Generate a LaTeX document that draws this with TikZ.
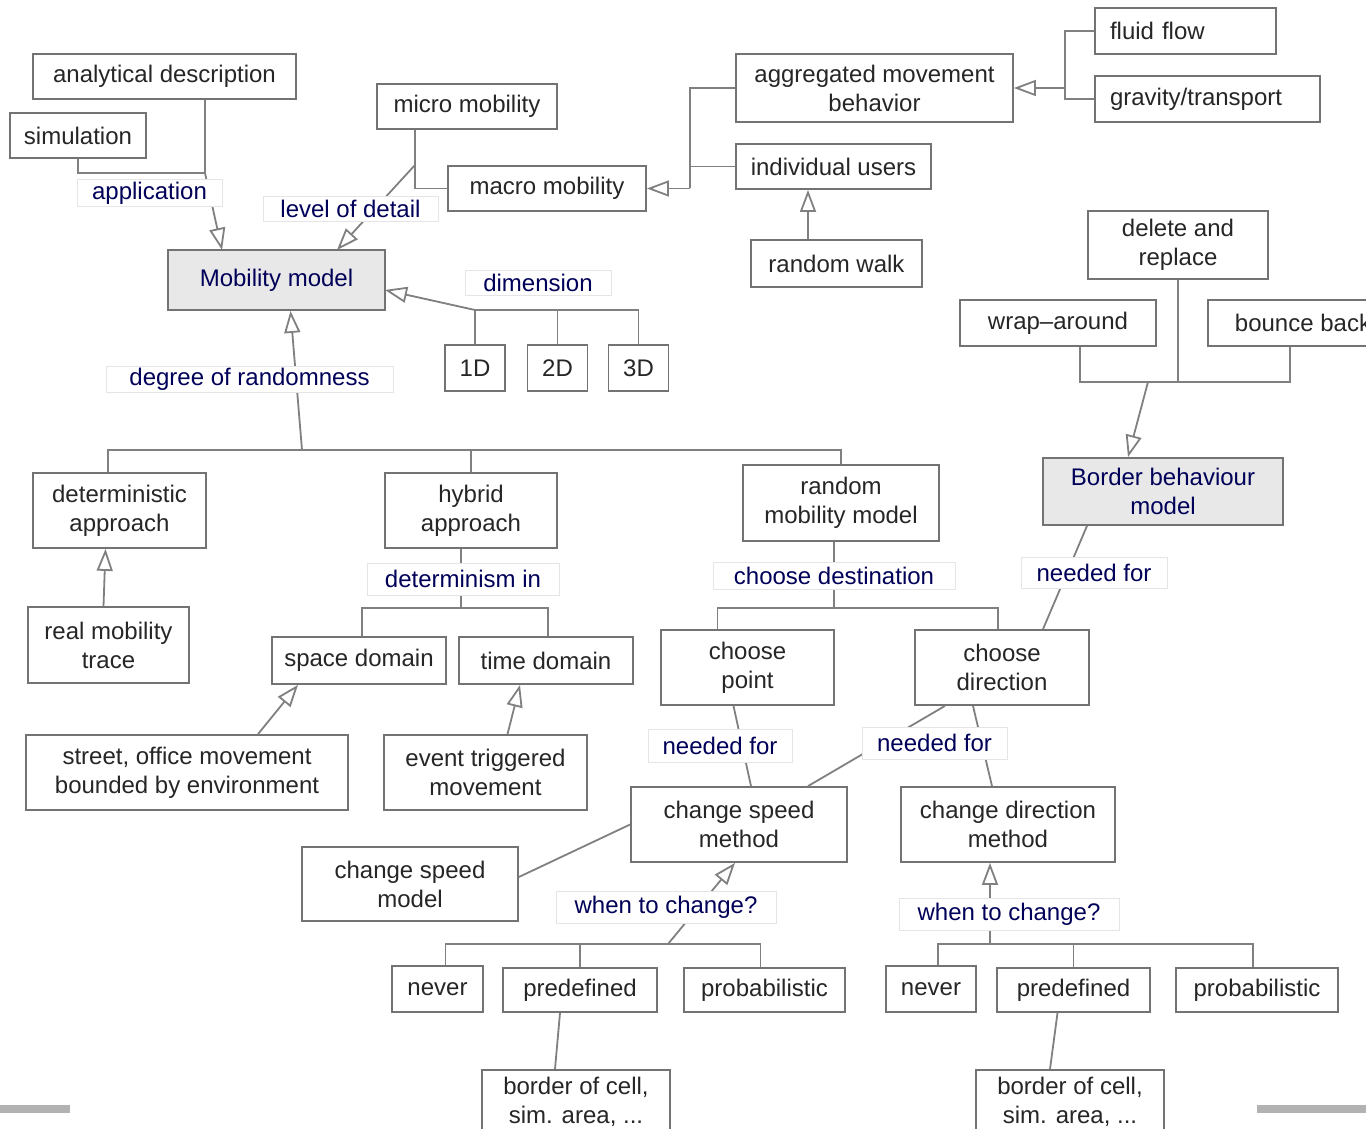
\documentclass[tikz,border=0pt]{standalone}
\usepackage{fontspec}
\setmainfont{Liberation Sans}
\usetikzlibrary{arrows.meta}

\begin{document}
\begin{tikzpicture}[x=0.5pt,y=-0.5pt,font=\fontsize{12}{14.5}\selectfont,
  box/.style={draw=black!55,line width=0.9pt,fill=white,align=center,text=black!85,inner sep=0pt},
  key box/.style={box,fill=black!9,text=blue!35!black},
  left box/.style={box,align=left,inner xsep=7.5pt},
  lbl/.style={draw=black!10,line width=0.5pt,fill=white,text=blue!35!black,inner sep=0pt},
  link/.style={draw=black!50,line width=0.9pt},
  isa/.style={link,-{Triangle[open,length=11pt,width=8pt,line width=0.9pt]}}]

  \useasboundingbox (0,0) rectangle (1366,1129);
  \clip (0,0) rectangle (1366,1129);

  \node[box,minimum width=131.5pt,minimum height=22.5pt] (ana) at (164.5,76.5) {analytical description};
  \node[box,minimum width=68pt,minimum height=22.5pt] (sim) at (78,135.5) {simulation};
  \node[box,minimum width=90pt,minimum height=22.5pt] (micro) at (467,106.5) {micro mobility};
  \node[box,minimum width=99pt,minimum height=22.5pt] (macro) at (547,188.5) {macro mobility};
  \node[box,minimum width=138.5pt,minimum height=34pt] (aggr) at (874.5,88) {aggregated movement\\behavior};
  \node[box,minimum width=97.5pt,minimum height=22.5pt] (indiv) at (833.5,166.5) {individual users};
  \node[left box,text width=75.5pt,minimum height=23pt] (fluid) at (1185.5,31) {fluid flow};
  \node[left box,text width=97.5pt,minimum height=23pt] (grav) at (1207.5,99) {gravity/transport};
  \node[box,minimum width=85.5pt,minimum height=23.5pt] (walk) at (836.5,263.5) {random walk};
  \node[key box,minimum width=108.5pt,minimum height=30pt] (mob) at (276.5,280) {Mobility model};
  \node[box,minimum width=30pt,minimum height=23pt] (d1) at (475,368) {1D};
  \node[box,minimum width=30pt,minimum height=23pt] (d2) at (557.5,368) {2D};
  \node[box,minimum width=30pt,minimum height=23pt] (d3) at (638.5,368) {3D};
  \node[box,minimum width=90pt,minimum height=34pt] (delrep) at (1178,245) {delete and\\replace};
  \node[box,minimum width=98pt,minimum height=23pt] (wrap) at (1058,323) {wrap--around};
  \node[box,minimum width=95pt,minimum height=23pt] (bounce) at (1303,323) {bounce back};
  \node[key box,minimum width=120pt,minimum height=33.5pt] (border) at (1163,491.5) {Border behaviour\\model};
  \node[box,minimum width=86.5pt,minimum height=37.5pt] (det) at (119.5,510.5) {deterministic\\approach};
  \node[box,minimum width=86pt,minimum height=37.5pt] (hyb) at (471,510.5) {hybrid\\approach};
  \node[box,minimum width=98pt,minimum height=38pt] (rnd) at (841,503) {random\\mobility model};
  \node[box,minimum width=80.5pt,minimum height=38pt] (real) at (108.5,645) {real mobility\\trace};
  \node[box,minimum width=87pt,minimum height=23.5pt] (space) at (359,660.5) {space domain};
  \node[box,minimum width=87pt,minimum height=23.5pt] (time) at (546,660.5) {time domain};
  \node[box,minimum width=86.5pt,minimum height=37.5pt] (cpoint) at (747.5,667.5) {choose\\point};
  \node[box,minimum width=87pt,minimum height=37.5pt] (cdir) at (1002,667.5) {choose\\direction};
  \node[box,minimum width=161pt,minimum height=37.5pt] (street) at (187,772.5) {street, office movement\\bounded by environment};
  \node[box,minimum width=101.5pt,minimum height=37.5pt] (event) at (485.5,772.5) {event triggered\\movement};
  \node[box,minimum width=108pt,minimum height=37.5pt] (csm) at (739,824.5) {change speed\\method};
  \node[box,minimum width=107pt,minimum height=37.5pt] (cdm) at (1008,824.5) {change direction\\method};
  \node[box,minimum width=108pt,minimum height=37pt] (csmodel) at (410,884) {change speed\\model};
  \node[box,minimum width=45.5pt,minimum height=23pt] (neverL) at (437.5,989) {never};
  \node[box,minimum width=77pt,minimum height=22pt] (predL) at (580,990) {predefined};
  \node[box,minimum width=80.5pt,minimum height=22pt] (probL) at (764.5,990) {probabilistic};
  \node[box,minimum width=45pt,minimum height=23pt] (neverR) at (931,989) {never};
  \node[box,minimum width=76.5pt,minimum height=22pt] (predR) at (1073.5,990) {predefined};
  \node[box,minimum width=81pt,minimum height=22pt] (probR) at (1257,990) {probabilistic};
  \node[box,minimum width=94pt,minimum height=32pt] (cellL) at (576,1102) {border of cell,\\sim. area, ...};
  \node[box,minimum width=94pt,minimum height=32pt] (cellR) at (1070,1102) {border of cell,\\sim. area, ...};

  \coordinate (appJ) at (205,173);
  \coordinate (appT) at (222,250);
  \coordinate (lodJ) at (415,165);
  \coordinate (lodT) at (337,250);
  \coordinate (aggJ) at (690,188.5);
  \coordinate (flowJ) at (1065,88);
  \coordinate (dimJ) at (475,310);
  \coordinate (dimT) at (385,290);
  \coordinate (degJ) at (302,450);
  \coordinate (detJ) at (461,608);
  \coordinate (destJ) at (834,608);
  \coordinate (bordJ) at (1148,382);
  \coordinate (whenLJ) at (668,944);
  \coordinate (whenRJ) at (990,944);

  \draw[link] (sim.south) |- (appJ);
  \draw[link] (ana.south -| appJ) -- (appJ);
  \draw[isa] (appJ) -- (appT);
  \draw[link] (micro.south -| lodJ) |- (macro.west);
  \draw[isa] (lodJ) -- (lodT);
  \draw[link] (aggr.west) -| (aggJ);
  \draw[link] (indiv.west) -| (aggJ);
  \draw[isa] (aggJ) -- (macro.east);
  \draw[link] (fluid.west) -| (flowJ);
  \draw[link] (grav.west) -| (flowJ);
  \draw[isa] (flowJ) -- (aggr.east);
  \draw[isa] ([xshift=-14.25pt]walk.north) -- ([xshift=-14.25pt]walk.north |- indiv.south);
  \draw[link] (d1.north) -- (dimJ) -| (d3.north);
  \draw[link] (d2.north) -- (d2.north |- dimJ);
  \draw[isa] (dimJ) -- (dimT);
  \draw[link] ([xshift=-5.75pt]det.north) |- (degJ) -| (rnd.north);
  \draw[link] (hyb.north) -- (hyb.north |- degJ);
  \draw[isa] (degJ) -- ([xshift=7pt]mob.south);
  \draw[isa] ([xshift=-2.5pt]real.north) -- ([xshift=-7pt]det.south);
  \draw[link] (hyb.south -| detJ) -- (detJ);
  \draw[link] ([xshift=1.5pt]space.north) |- (detJ) -| ([xshift=1pt]time.north);
  \draw[isa] ([xshift=35.5pt]street.north) -- ([xshift=-30.5pt]space.south);
  \draw[isa] ([xshift=11pt]event.north) -- ([xshift=-13pt]time.south);
  \draw[link] (rnd.south -| destJ) -- (destJ);
  \draw[link] ([xshift=-15pt]cpoint.north) |- (destJ) -| ([xshift=-2pt]cdir.north);
  \draw[link] ([xshift=11pt]wrap.south) |- (bordJ) -| ([xshift=-6.5pt]bounce.south);
  \draw[link] (delrep.south) -- (delrep.south |- bordJ);
  \draw[isa] (bordJ) -- ([xshift=-17.5pt]border.north);
  \draw[link] ([xshift=-38pt]border.south) -- ([xshift=20.5pt]cdir.north);
  \draw[link] ([xshift=-7pt]cpoint.south) -- ([xshift=6pt]csm.north);
  \draw[link] ([xshift=-28.5pt]cdir.south) -- ([xshift=34.5pt]csm.north);
  \draw[link] ([xshift=-14.5pt]cdir.south) -- ([xshift=-8pt]cdm.north);
  \draw[link] ([yshift=3.5pt]csmodel.east) -- (csm.west);
  \draw[link] ([xshift=4pt]neverL.north) |- (whenLJ) -| ([xshift=-2pt]probL.north);
  \draw[link] (predL.north) -- (predL.north |- whenLJ);
  \draw[isa] (whenLJ) -- ([xshift=-2pt]csm.south);
  \draw[link] ([xshift=3.5pt]neverR.north) |- (whenRJ) -| ([xshift=-2pt]probR.north);
  \draw[link] (predR.north) -- (predR.north |- whenRJ);
  \draw[isa] (whenRJ) -- (whenRJ |- cdm.south);
  \draw[link] ([xshift=-10pt]predL.south) -- ([xshift=-10.5pt]cellL.north);
  \draw[link] ([xshift=-8pt]predR.south) -- ([xshift=-10pt]cellR.north);

  \node[lbl,minimum width=72.5pt,minimum height=13pt] (app) at (149.5,193) {application};
  \node[lbl,minimum width=87.5pt,minimum height=12.5pt] (lod) at (350.5,208.5) {level of detail};
  \node[lbl,minimum width=73pt,minimum height=12.5pt] (dim) at (538,282.5) {dimension};
  \node[lbl,minimum width=143.5pt,minimum height=13pt] (deg) at (249.5,379) {degree of randomness};
  \node[lbl,minimum width=96pt,minimum height=16pt] (detin) at (463,579) {determinism in};
  \node[lbl,minimum width=121pt,minimum height=13.5pt] (dest) at (834,575.5) {choose destination};
  \node[lbl,minimum width=73pt,minimum height=15.5pt] (needB) at (1094,572.5) {needed for};
  \node[lbl,minimum width=72pt,minimum height=16.5pt] (needP) at (720,745.5) {needed for};
  \node[lbl,minimum width=72.5pt,minimum height=16pt] (needD) at (934.5,743) {needed for};
  \node[lbl,minimum width=110pt,minimum height=16pt] (whenL) at (666,907) {when to change?};
  \node[lbl,minimum width=110pt,minimum height=16pt] (whenR) at (1009,914) {when to change?};

  \fill[black!30] (0,1105) rectangle (70,1113);
  \fill[black!30] (1257,1105) rectangle (1366,1113);

\end{tikzpicture}
\end{document}
